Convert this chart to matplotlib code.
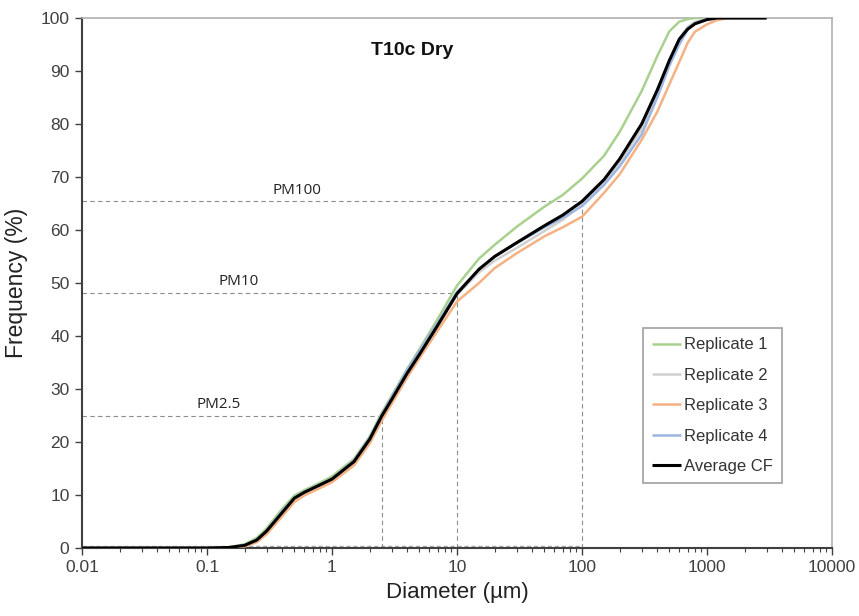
import matplotlib
matplotlib.use("Agg")
import matplotlib.pyplot as plt
from matplotlib.ticker import LogLocator, FixedLocator, NullFormatter

# ---------------- data ----------------
diam = [0.01, 0.05, 0.1, 0.15, 0.2, 0.25, 0.3, 0.4, 0.5, 0.6, 0.8, 1, 1.5, 2, 2.5, 3, 4, 5, 7,
        10, 15, 20, 30, 50, 70, 100, 150, 200, 300, 400, 500, 600, 700, 800, 1000, 1200, 1500, 2000, 3000]

rep1 = [0, 0, 0, 0.15, 0.7, 1.9, 3.7, 7.4, 9.9, 10.9, 12.3, 13.5, 16.8, 21.0, 25.5, 28.7, 33.8, 37.5, 43.2,
        49.5, 54.6, 57.2, 60.6, 64.4, 66.6, 69.7, 74.0, 78.5, 86.2, 92.8, 97.5, 99.3, 99.8, 100, 100, 100, 100, 100, 100]
rep2 = [0, 0, 0, 0.1, 0.5, 1.5, 3.1, 6.7, 9.3, 10.4, 11.8, 12.9, 16.2, 20.4, 24.8, 28.0, 33.0, 36.6, 41.8,
        47.8, 52.0, 54.2, 56.6, 59.8, 61.9, 64.8, 69.0, 72.8, 79.0, 86.0, 92.0, 96.0, 98.3, 99.3, 99.8, 100, 100, 100, 100]
rep3 = [0, 0, 0, 0.05, 0.3, 1.1, 2.6, 6.0, 8.7, 9.9, 11.3, 12.4, 15.6, 19.7, 24.0, 27.2, 32.2, 35.8, 41.0,
        46.5, 50.0, 52.8, 55.6, 58.8, 60.5, 62.5, 67.0, 70.5, 77.0, 82.3, 87.5, 91.7, 95.3, 97.4, 98.8, 99.6, 100, 100, 100]
rep4 = [0, 0, 0, 0.1, 0.5, 1.6, 3.3, 7.0, 9.5, 10.6, 12.0, 13.1, 16.5, 20.8, 25.2, 28.5, 33.6, 37.2, 42.5,
        48.3, 52.5, 55.0, 57.5, 60.5, 62.3, 64.5, 68.5, 72.0, 78.0, 85.0, 91.0, 95.0, 97.8, 99.0, 99.8, 100, 100, 100, 100]
avg = [0, 0, 0, 0.1, 0.5, 1.5, 3.2, 6.7, 9.4, 10.5, 11.9, 13.0, 16.3, 20.5, 24.9, 28.0, 33.0, 36.5, 42.0,
       48.0, 52.6, 55.0, 57.6, 60.8, 62.8, 65.4, 69.5, 73.4, 80.0, 86.4, 92.0, 96.0, 97.9, 98.9, 99.7, 100, 100, 100, 100]

series_names = ["Replicate 1", "Replicate 2", "Replicate 3", "Replicate 4", "Average CF"]
series_vals = [rep1, rep2, rep3, rep4, avg]
series_colors = ["#A9D18E", "#D0D0D0", "#F4B183", "#9DB5E0", "#000000"]

pm_labels = ["PM2.5", "PM10", "PM100"]
pm_x = [2.5, 10, 100]
pm_y = [25.0, 48.2, 65.4]
pm_label_x = [0.125, 0.18, 0.52]

xticks = [0.01, 0.1, 1, 10, 100, 1000, 10000]
xtick_labels = ["0.01", "0.1", "1", "10", "100", "1000", "10000"]
yticks = list(range(0, 101, 10))

# ---------------- figure ----------------
fig = plt.figure(figsize=(8.59, 6.16), dpi=100)
ax = fig.add_axes([82 / 859, 1 - 548 / 616, (832 - 82) / 859, (548 - 18) / 616])

font = "Liberation Sans"
tick_col = "#404040"

# near-zero dashed line
ax.plot([0.01, 100], [0.4, 0.4], color="#A8A8A8", lw=1.0, ls=(0, (3, 2)), zorder=2)

# PM guide lines
for lab, px, py, lx in zip(pm_labels, pm_x, pm_y, pm_label_x):
    ax.plot([0.01, px], [py, py], color="#8C8C8C", lw=0.8, ls=(0, (4, 3)), zorder=2)
    ax.plot([px, px], [0, py], color="#8C8C8C", lw=0.8, ls=(0, (4, 3)), zorder=2)
    ax.text(lx, py + 0.6, lab, fontsize=11, family="Open Sans", color="#222222",
            ha="center", va="bottom")

for name, vals, col in zip(series_names, series_vals, series_colors):
    lw = 2.2 if name == "Average CF" else 1.8
    z = 5 if name == "Average CF" else 3
    ax.plot(diam, vals, color=col, lw=lw, label=name, zorder=z, solid_capstyle="butt",
            solid_joinstyle="round")

ax.set_xscale("log")
ax.set_xlim(0.01, 10000)
ax.set_ylim(0, 100)
ax.xaxis.set_major_locator(FixedLocator(xticks))
ax.set_xticks(xticks)
ax.set_xticklabels(xtick_labels)
ax.xaxis.set_minor_locator(LogLocator(base=10, subs=range(2, 10), numticks=20))
ax.xaxis.set_minor_formatter(NullFormatter())
ax.set_yticks(yticks)

for lbl in ax.get_xticklabels() + ax.get_yticklabels():
    lbl.set_fontfamily(font)
    lbl.set_fontsize(12.5)
    lbl.set_color(tick_col)

ax.tick_params(axis="both", which="major", direction="out", length=5, width=1, color="#404040", pad=4)
ax.tick_params(axis="x", which="minor", direction="out", length=3, width=0.8, color="#404040")

for s in ["left", "bottom"]:
    ax.spines[s].set_color("#404040")
    ax.spines[s].set_linewidth(1.5)
for s in ["top", "right"]:
    ax.spines[s].set_color("#B0B0B0")
    ax.spines[s].set_linewidth(1.2)

ax.set_xlabel("Diameter (µm)", family=font, fontsize=16, color="#222222", labelpad=5)
ax.set_ylabel("Frequency (%)", family=font, fontsize=16.5, color="#222222", labelpad=9)

ax.text(0.44, 0.955, "T10c Dry", transform=ax.transAxes, fontsize=14, fontweight="bold",
        family=font, color="#111111", ha="center", va="top")

leg = ax.legend(loc="lower left", bbox_to_anchor=((643 - 82) / 750, (548 - 483) / 530),
                frameon=True, fancybox=False, edgecolor="#A0A0A0", framealpha=1,
                prop={"family": font, "size": 12}, handlelength=1.7, handletextpad=0.2,
                labelspacing=0.92, borderpad=0.55, borderaxespad=0)
leg.get_frame().set_linewidth(1.2)
for t in leg.get_texts():
    t.set_color("#333333")

fig.savefig("out.png", dpi=100)
